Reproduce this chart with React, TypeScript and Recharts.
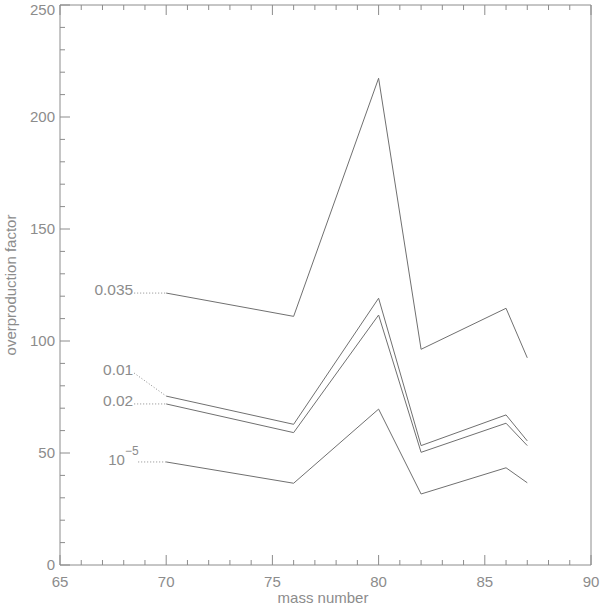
import React from 'react';
import { LineChart, Line, XAxis, YAxis } from 'recharts';

const massNumbers = [70, 76, 80, 82, 86, 87];
const seriesNames = ['0.035', '0.01', '0.02', '1e-5'];
const s0035 = [121.4, 111.0, 217.3, 96.3, 114.6, 92.5];
const s001 = [75.4, 62.8, 119.1, 53.3, 67.0, 55.4];
const s002 = [71.9, 59.1, 111.6, 50.3, 63.3, 53.3];
const s1e5 = [46.0, 36.5, 69.6, 31.7, 43.4, 36.7];
const xTicks = Array.from({ length: 26 }, (_, i) => 65 + i);
const yTicks = Array.from({ length: 26 }, (_, i) => i * 10);

const data = massNumbers.map((m, i) => ({
  m,
  a: s0035[i],
  b: s001[i],
  c: s002[i],
  d: s1e5[i],
}));

const GRAY = '#8c8c8c';
const LINE = '#707070';
const FONT = 'Liberation Sans, Arial, sans-serif';

const BottomTick = (props: any) => {
  const { x, y, payload } = props;
  const major = payload.value % 5 === 0;
  return (
    <g>
      <line x1={x} x2={x} y1={y} y2={y - (major ? 10 : 5)} stroke={GRAY} />
      {major && (
        <text x={x} y={y + 22} textAnchor="middle" fill={GRAY} fontSize={15} fontFamily={FONT}>
          {payload.value}
        </text>
      )}
    </g>
  );
};
const TopTick = (props: any) => {
  const { x, y, payload } = props;
  const major = payload.value % 5 === 0;
  return <line x1={x} x2={x} y1={y} y2={y + (major ? 10 : 5)} stroke={GRAY} />;
};
const LeftTick = (props: any) => {
  const { x, y, payload } = props;
  const major = payload.value % 50 === 0;
  return (
    <g>
      <line x1={x} x2={x + (major ? 10 : 5)} y1={y} y2={y} stroke={GRAY} />
      {major && (
        <text x={x - 5} y={Math.max(y + 5, 15)} textAnchor="end" fill={GRAY} fontSize={15} fontFamily={FONT}>
          {payload.value}
        </text>
      )}
    </g>
  );
};
const RightTick = (props: any) => {
  const { x, y, payload } = props;
  const major = payload.value % 50 === 0;
  return <line x1={x} x2={x - (major ? 10 : 5)} y1={y} y2={y} stroke={GRAY} />;
};

const labelCfg: Record<string, { dy: number }> = {
  '0.035': { dy: 0 },
  '0.01': { dy: -23 },
  '0.02': { dy: 0 },
  '1e-5': { dy: 0 },
};

const makeLabel = (name: string) => (props: any) => {
  const { x, y, index } = props;
  if (index !== 0) return null;
  const dy = labelCfg[name].dy;
  const tx = x - 33;
  const ty = y + dy;
  const isPow = name === '1e-5';
  const text = isPow ? (
    <text x={tx - 25} y={ty + 3} textAnchor="start" fill={GRAY} fontSize={15} fontFamily={FONT}>
      10
      <tspan dy={-10} fontSize={12}>−5</tspan>
    </text>
  ) : (
    <text x={tx} y={ty + 2} textAnchor="end" fill={GRAY} fontSize={15.5} fontFamily={FONT}>
      {name}
    </text>
  );
  return (
    <g>
      <line x1={isPow ? tx + 5 : tx + 1} y1={ty} x2={x} y2={y} stroke={GRAY} strokeDasharray="1 2" />
      {text}
    </g>
  );
};

export default function App() {
  const keys = ['a', 'b', 'c', 'd'];
  return (
    <div style={{ position: 'absolute', left: 0, top: 0 }}>
      <LineChart width={600} height={605} data={data} margin={{ top: 4, right: 8, bottom: 0, left: 0 }}>
        <XAxis
          xAxisId="b"
          dataKey="m"
          type="number"
          domain={[65, 90]}
          ticks={xTicks}
          interval={0}
          height={40}
          tickSize={0}
          tickMargin={0}
          tickLine={false}
          axisLine={{ stroke: GRAY }}
          tick={<BottomTick />}
          allowDataOverflow
        />
        <XAxis
          xAxisId="t"
          orientation="top"
          dataKey="m"
          type="number"
          domain={[65, 90]}
          ticks={xTicks}
          interval={0}
          height={1}
          tickSize={0}
          tickMargin={0}
          tickLine={false}
          axisLine={{ stroke: GRAY }}
          tick={<TopTick />}
        />
        <YAxis
          yAxisId="l"
          type="number"
          domain={[0, 250]}
          ticks={yTicks}
          interval={0}
          width={60}
          tickSize={0}
          tickMargin={0}
          tickLine={false}
          axisLine={{ stroke: GRAY }}
          tick={<LeftTick />}
        />
        <YAxis
          yAxisId="r"
          orientation="right"
          type="number"
          domain={[0, 250]}
          ticks={yTicks}
          interval={0}
          width={1}
          tickSize={0}
          tickMargin={0}
          tickLine={false}
          axisLine={{ stroke: GRAY }}
          tick={<RightTick />}
        />
        {keys.map((k, i) => (
          <Line
            key={k}
            xAxisId="b"
            yAxisId="l"
            dataKey={k}
            type="linear"
            stroke={LINE}
            strokeWidth={1}
            dot={false}
            isAnimationActive={false}
            label={makeLabel(seriesNames[i])}
          />
        ))}
        <text x={323} y={603} textAnchor="middle" fill={GRAY} fontSize={15} fontFamily={FONT}>
          mass number
        </text>
        <text
          x={16}
          y={285}
          transform="rotate(-90 16 285)"
          textAnchor="middle"
          fill={GRAY}
          fontSize={15}
          fontFamily={FONT}
        >
          overproduction factor
        </text>
      </LineChart>
    </div>
  );
}
